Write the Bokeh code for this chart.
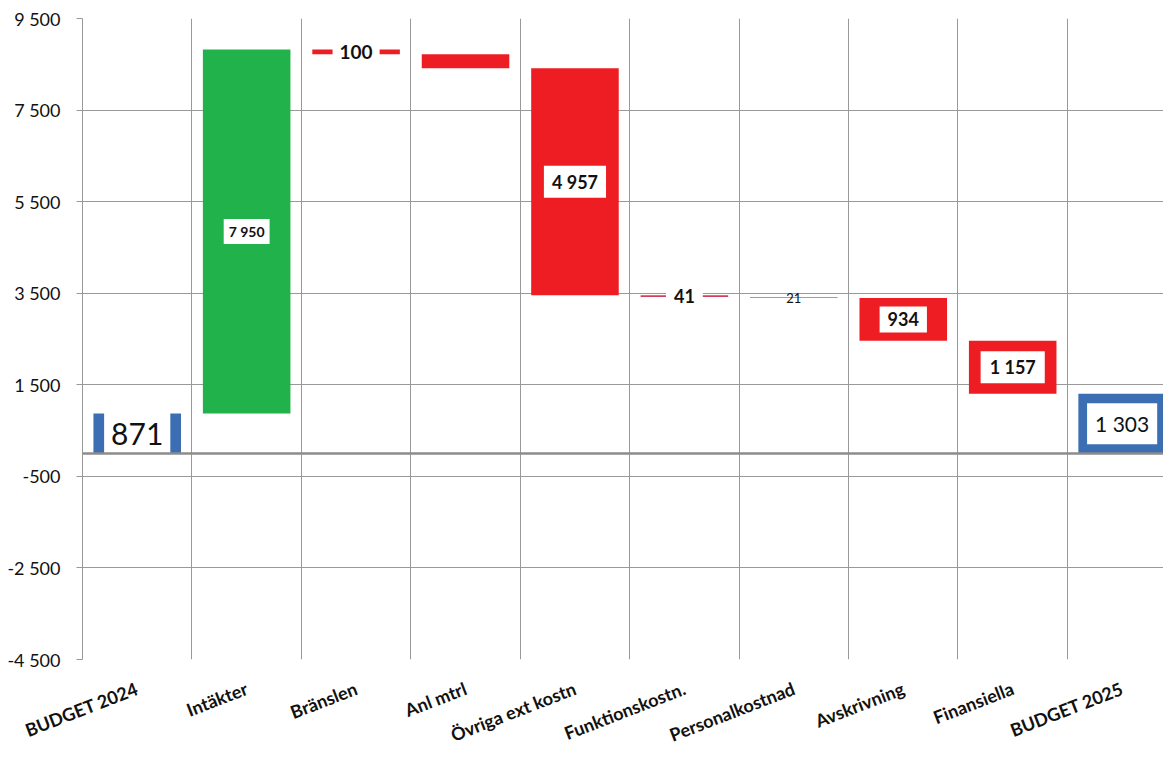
from bokeh.plotting import figure
from bokeh.models import FixedTicker, Range1d, Span, ColumnDataSource
from bokeh.core.properties import value
from bokeh.embed import file_html
from bokeh.resources import INLINE

# ---------------- data ----------------
categories = ["BUDGET 2024", "Intäkter", "Bränslen", "Anl mtrl", "Övriga ext kostn",
              "Funktionskostn.", "Personalkostnad", "Avskrivning", "Finansiella", "BUDGET 2025"]
changes = [871, 7950, -100, -308, -4957, -41, -21, -934, -1157, 1303]
is_total = [True, False, False, False, False, False, False, False, False, True]
value_labels = ["871", "7 950", "100", "", "4 957", "41", "21", "934", "1 157", "1 303"]
y_ticks = [-4500, -2500, -500, 1500, 3500, 5500, 7500, 9500]
y_tick_labels = ["-4 500", "-2 500", "-500", "1 500", "3 500", "5 500", "7 500", "9 500"]

# ---------------- styles ----------------
BLUE = "#3C6EB4"
GREEN = "#22B24C"
RED = "#EE1D23"
bar_colors = [BLUE, GREEN, RED, RED, RED, "#D43E5C", "#8CA5A5", RED, RED, BLUE]
# (font size, bold, padding x, padding y, white background)
label_styles = [
    ("30px", False, 7, 12, True),
    ("14px", True, 5, 4, True),
    ("19px", True, 7, 1, True),
    ("18px", True, 7, 1, True),
    ("18px", True, 8, 5, True),
    ("18px", True, 8, 1, True),
    ("13px", False, 2, 1, False),
    ("18px", True, 8, 6, True),
    ("18px", True, 9, 5, True),
    ("21px", False, 8, 8, True),
]
FONT = "Lato"

# ---------------- waterfall geometry from data ----------------
bottoms, tops = [], []
running = 0
for c, t in zip(changes, is_total):
    if t:
        bottoms.append(0)
        tops.append(c)
        running = c
    else:
        new = running + c
        bottoms.append(min(running, new))
        tops.append(max(running, new))
        running = new
xs = [i + 0.5 for i in range(len(categories))]
mids = [(b + t) / 2 for b, t in zip(bottoms, tops)]

src = ColumnDataSource(dict(x=xs, bottom=bottoms, top=tops, color=bar_colors))

p = figure(width=1163, height=773, output_backend="svg", toolbar_location=None,
           x_range=Range1d(0, 9.878), y_range=Range1d(-4500, 9500),
           min_border_left=82, min_border_right=0, min_border_top=18, min_border_bottom=114)
p.outline_line_color = None
p.background_fill_color = "white"
p.border_fill_color = "white"

# grid
p.xgrid.ticker = FixedTicker(ticks=list(range(0, len(categories) + 1)))
p.xgrid.grid_line_color = "#999999"
p.xgrid.grid_line_width = 1
p.ygrid.grid_line_color = "#999999"
p.ygrid.grid_line_width = 1

# y axis
p.yaxis.ticker = FixedTicker(ticks=y_ticks)
p.yaxis.major_label_overrides = {t: l for t, l in zip(y_ticks, y_tick_labels)}
p.yaxis.axis_line_color = "#999999"
p.yaxis.major_tick_line_color = "#999999"
p.yaxis.major_tick_out = 6
p.yaxis.major_tick_in = 0
p.yaxis.minor_tick_line_color = None
p.yaxis.major_label_text_font = FONT
p.yaxis.major_label_text_font_size = "18px"
p.yaxis.major_label_text_color = "#111111"
p.yaxis.major_label_standoff = 16

# x axis
p.xaxis.ticker = FixedTicker(ticks=xs)
p.xaxis.major_label_overrides = {x: c for x, c in zip(xs, categories)}
p.xaxis.axis_line_color = None
p.xaxis.major_tick_line_color = None
p.xaxis.minor_tick_line_color = None
p.xaxis.major_label_orientation = 0.37
p.xaxis.major_label_text_font = FONT
p.xaxis.major_label_text_font_style = "bold"
p.xaxis.major_label_text_font_size = "18px"
p.xaxis.major_label_text_color = "#111111"
p.xaxis.major_label_standoff = 22

# baseline at zero
p.add_layout(Span(location=0, dimension="width", line_color="#8C8C8C", line_width=2.5))

# bars
p.vbar(x="x", bottom="bottom", top="top", width=0.8, color="color", source=src, line_color=None)

# value labels
for i, lab in enumerate(value_labels):
    if not lab:
        continue
    size, bold, px, py, bg = label_styles[i]
    p.text(x=[xs[i]], y=[mids[i]], text=[lab],
           text_font=value(FONT), text_font_size=size,
           text_font_style="bold" if bold else "normal",
           text_color="#111111", text_align="center", text_baseline="middle",
           background_fill_color="white" if bg else None,
           padding=dict(x=px, y=py))

open("out.html", "w").write(file_html(p, INLINE))
